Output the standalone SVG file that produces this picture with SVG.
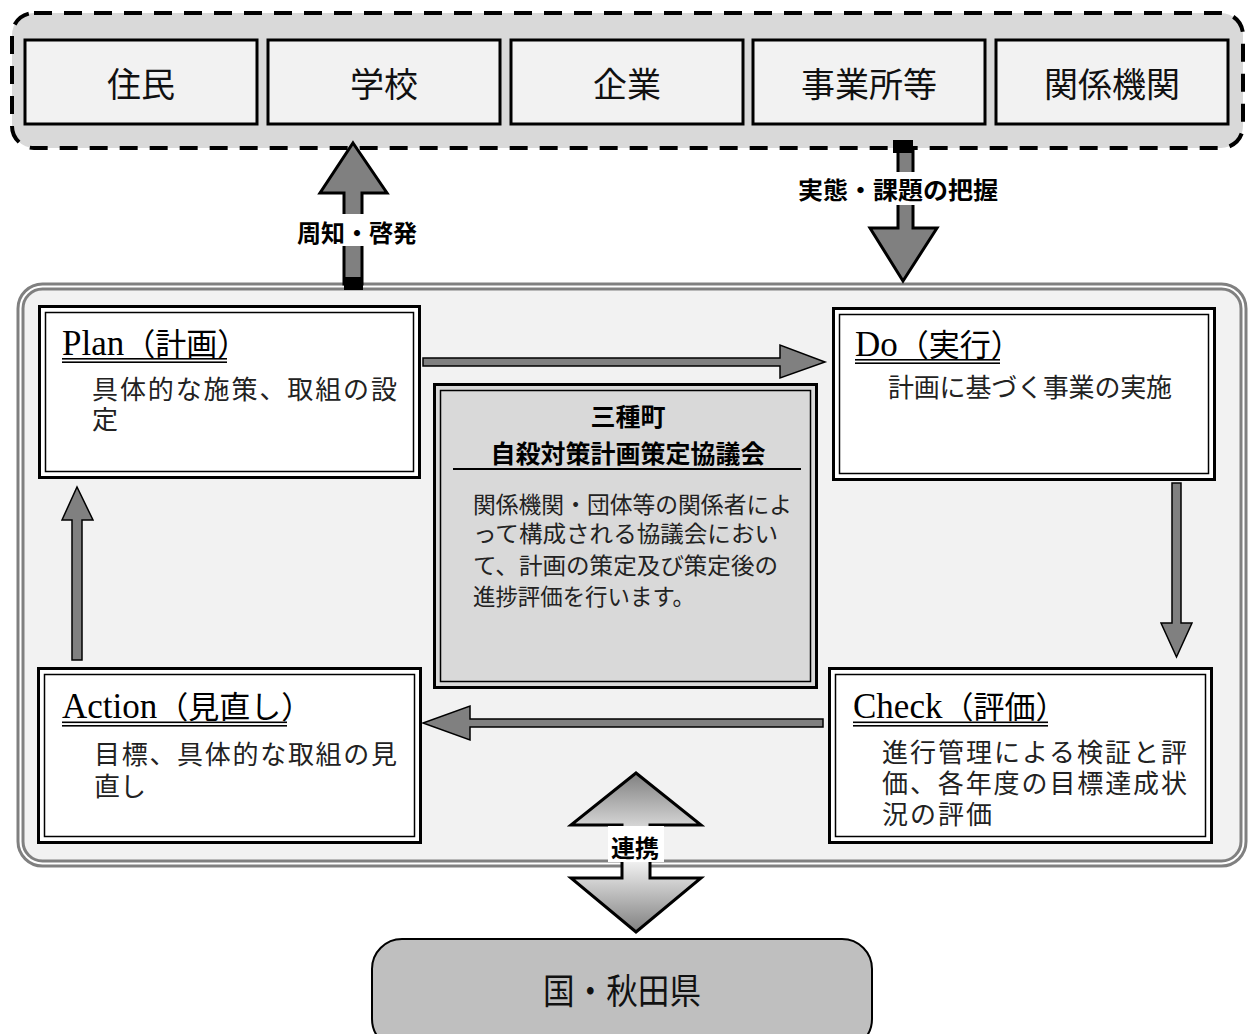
<svg xmlns="http://www.w3.org/2000/svg" width="1249" height="1034" viewBox="0 0 1249 1034">
<style>
.cjk{font-family:"Noto Sans CJK JP","Noto Sans CJK SC",sans-serif;}
.top{font-size:34px;fill:#111;text-anchor:middle;dominant-baseline:central;}
.ttl{font-family:"Liberation Serif","Noto Sans CJK JP",serif;font-size:35px;fill:#000;}
.tj{font-family:"Noto Sans CJK JP",sans-serif;font-size:31px;}
.body{font-family:"Noto Sans CJK JP",sans-serif;font-size:26px;fill:#222;}
.cbody{font-family:"Noto Sans CJK JP",sans-serif;font-size:23px;fill:#222;}
.lbl{font-family:"Noto Sans CJK JP",sans-serif;font-size:24px;font-weight:bold;fill:#000;text-anchor:middle;dominant-baseline:central;}
.tb{fill:#f2f2f2;stroke:#000;stroke-width:3;}
.pout{fill:#fff;stroke:#000;stroke-width:3;}
.pin{fill:none;stroke:#000;stroke-width:1.5;}
.flow{fill:#808080;stroke:#000;stroke-width:1.5;stroke-linejoin:miter;}
.big{fill:#808080;stroke:#000;stroke-width:3;stroke-linejoin:miter;}
.ul{fill:#000;}
</style>
<defs>
<linearGradient id="g" x1="0" y1="773" x2="0" y2="932" gradientUnits="userSpaceOnUse">
<stop offset="0" stop-color="#808080"/>
<stop offset="0.5" stop-color="#ffffff"/>
<stop offset="1" stop-color="#808080"/>
</linearGradient>
</defs>
<rect width="1249" height="1034" fill="#fff"/>

<g id="stakeholders">
<rect x="12" y="13" width="1231" height="135" rx="22" fill="#d9d9d9" stroke="#000" stroke-width="4" stroke-dasharray="18 12"/>
<g id="n-jumin"><rect class="tb" x="25" y="40" width="232" height="84"/><text class="cjk top" x="141" y="82">住民</text></g>
<g id="n-gakko"><rect class="tb" x="268" y="40" width="232" height="84"/><text class="cjk top" x="384" y="82">学校</text></g>
<g id="n-kigyo"><rect class="tb" x="511" y="40" width="232" height="84"/><text class="cjk top" x="627" y="82">企業</text></g>
<g id="n-jigyosho"><rect class="tb" x="753" y="40" width="232" height="84"/><text class="cjk top" x="869" y="82">事業所等</text></g>
<g id="n-kankei"><rect class="tb" x="996" y="40" width="232" height="84"/><text class="cjk top" x="1112" y="82">関係機関</text></g>
</g>

<g id="main-frame">
<rect x="20.5" y="286.5" width="1223" height="577" rx="22" fill="#f2f2f2" stroke="#808080" stroke-width="8"/>
<rect x="20.5" y="286.5" width="1223" height="577" rx="22" fill="none" stroke="#fff" stroke-width="2"/>
</g>

<g id="n-plan">
<rect class="pout" x="39.5" y="306.5" width="380" height="171"/>
<rect class="pin" x="45.5" y="312.5" width="368" height="159"/>
<text class="ttl" x="62" y="355">Plan<tspan class="tj">（計画）</tspan></text>
<rect class="ul" x="62" y="358" width="165" height="1.6"/><rect class="ul" x="62" y="361.4" width="165" height="1.6"/>
<text class="body" x="92" y="399" textLength="305" lengthAdjust="spacing">具体的な施策、取組の設</text>
<text class="body" x="92" y="429">定</text>
</g>

<g id="n-do">
<rect class="pout" x="833.5" y="308.5" width="381" height="171"/>
<rect class="pin" x="839.5" y="314.5" width="369" height="159"/>
<text class="ttl" x="855" y="356">Do<tspan class="tj">（実行）</tspan></text>
<rect class="ul" x="855" y="359" width="145" height="1.6"/><rect class="ul" x="855" y="362.4" width="145" height="1.6"/>
<text class="body" x="888" y="397" textLength="284" lengthAdjust="spacing">計画に基づく事業の実施</text>
</g>

<g id="n-action">
<rect class="pout" x="38.5" y="668.5" width="382" height="174"/>
<rect class="pin" x="44.5" y="674.5" width="370" height="162"/>
<text class="ttl" x="62" y="718">Action<tspan class="tj">（見直し）</tspan></text>
<rect class="ul" x="62" y="721.5" width="225" height="1.6"/><rect class="ul" x="62" y="725" width="225" height="1.6"/>
<text class="body" x="94" y="764" textLength="303" lengthAdjust="spacing">目標、具体的な取組の見</text>
<text class="body" x="94" y="796">直し</text>
</g>

<g id="n-check">
<rect class="pout" x="829.5" y="668.5" width="382" height="174"/>
<rect class="pin" x="835.5" y="674.5" width="370" height="162"/>
<text class="ttl" x="853" y="718">Check<tspan class="tj">（評価）</tspan></text>
<rect class="ul" x="853" y="721.5" width="195" height="1.6"/><rect class="ul" x="853" y="725" width="195" height="1.6"/>
<text class="body" x="882" y="762" textLength="305" lengthAdjust="spacing">進行管理による検証と評</text>
<text class="body" x="882" y="793" textLength="305" lengthAdjust="spacing">価、各年度の目標達成状</text>
<text class="body" x="882" y="824" textLength="110" lengthAdjust="spacing">況の評価</text>
</g>

<g id="n-council">
<rect x="434.5" y="384.5" width="382" height="303" fill="#d9d9d9" stroke="#000" stroke-width="3"/>
<rect x="440.5" y="390.5" width="370" height="291" fill="none" stroke="#000" stroke-width="1.5"/>
<text class="lbl" x="628" y="415" style="font-size:25px">三種町</text>
<text class="lbl" x="628" y="452" style="font-size:25px">自殺対策計画策定協議会</text>
<rect x="453" y="468" width="348" height="2" fill="#000"/>
<text class="cbody" x="473" y="513" textLength="319" lengthAdjust="spacingAndGlyphs">関係機関・団体等の関係者によ</text>
<text class="cbody" x="473" y="542" textLength="305" lengthAdjust="spacingAndGlyphs">って構成される協議会におい</text>
<text class="cbody" x="473" y="574" textLength="305" lengthAdjust="spacingAndGlyphs">て、計画の策定及び策定後の</text>
<text class="cbody" x="473" y="605" textLength="222" lengthAdjust="spacingAndGlyphs">進捗評価を行います。</text>
</g>

<g id="n-kuni">
<rect x="372" y="939" width="500" height="110" rx="30" fill="#bfbfbf" stroke="#000" stroke-width="2"/>
<text class="cjk" x="622" y="988" font-size="35" fill="#111" text-anchor="middle" dominant-baseline="central" textLength="158" lengthAdjust="spacingAndGlyphs">国・秋田県</text>
</g>

<g id="connectors">
<path class="flow" d="M423,358 H780 V345 L825,362 L780,378 V366 H423 Z"/>
<path class="flow" d="M1172,483 H1181 V623 H1192 L1176.5,657 L1161,623 H1172 Z"/>
<path class="flow" d="M823,719 V727 H470 V740 L423,723 L470,706 V719 Z"/>
<path class="flow" d="M72,660 H82 V520 H93 L77,487 L62,520 H72 Z"/>

<path class="big" d="M353,143 L387,193 L362,193 L362,284 L344,284 L344,193 L320,193 Z"/>
<rect x="344" y="277" width="19" height="13" fill="#000"/>
<rect x="296" y="214" width="122" height="32" fill="#fff"/>
<text class="lbl" x="357" y="231" textLength="120" lengthAdjust="spacingAndGlyphs">周知・啓発</text>

<path class="big" d="M898,148 L913,148 L913,228 L937,228 L903,281 L870,228 L898,228 Z"/>
<rect x="893" y="140" width="20" height="13" fill="#000"/>
<rect x="797" y="172" width="202" height="33" fill="#fff"/>
<text class="lbl" x="898" y="188" textLength="200" lengthAdjust="spacingAndGlyphs">実態・課題の把握</text>

<path d="M636,773 L701,825 L650,825 L650,878 L701,878 L636,932 L571,878 L622,878 L622,825 L571,825 Z" fill="url(#g)" stroke="#000" stroke-width="3" stroke-linejoin="miter"/>
<rect x="608" y="826" width="56" height="36" fill="#fff"/>
<text class="lbl" x="635" y="846">連携</text>
</g>
</svg>
